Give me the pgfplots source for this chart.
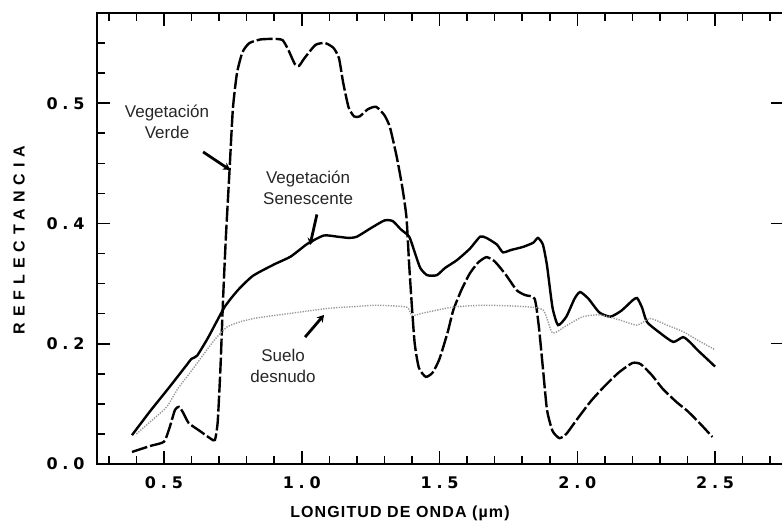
\documentclass[border=0pt]{standalone}
\usepackage{fontspec}
\setmainfont{Liberation Sans}
\newfontfamily\tickfont[LetterSpace=30]{DejaVu Sans}
\newfontfamily\ylabfont[LetterSpace=37]{Liberation Sans}
\newfontfamily\xlabfont[LetterSpace=7]{Liberation Sans}
\usepackage{pgfplots}
\pgfplotsset{compat=1.18}
\usetikzlibrary{arrows.meta}
\begin{document}
\begin{tikzpicture}
\begin{axis}[
  name=ax,
  scale only axis,
  width=687bp, height=451bp,
  xmin=0.257, xmax=2.75,
  ymin=0, ymax=0.75,
  axis line style={line width=2bp},
  tick align=inside,
  ytick pos=left,
  xtick={0.5,1.0,1.5,2.0,2.5},
  xticklabels={0.5,1.0,1.5,2.0,2.5},
  minor xtick={0.3,0.4,0.6,0.7,0.8,0.9,1.1,1.2,1.3,1.4,1.6,1.7,1.8,1.9,2.1,2.2,2.3,2.4,2.6,2.7},
  ytick={0,0.2,0.4,0.6},
  yticklabels={0.0,0.2,0.4,0.5},
  minor ytick={0.05,0.1,0.15,0.25,0.3,0.35,0.45,0.5,0.55,0.65,0.7},
  major tick length=13bp,
  minor tick length=8bp,
  every tick/.style={black, line width=1.6bp},
  xticklabel style={font=\tickfont\bfseries\fontsize{16bp}{18bp}\selectfont, yshift=-9bp},
  yticklabel style={font=\tickfont\bfseries\fontsize{16bp}{18bp}\selectfont, xshift=-9bp},
  xlabel={\xlabfont\bfseries\fontsize{16bp}{18bp}\selectfont LONGITUD DE ONDA (µm)},
  xlabel style={at={(axis description cs:0.441,0)}, anchor=center, yshift=-49bp},
  clip=false,
]
% Vegetacion verde (dashed)
\addplot[black, line width=2.4bp, dash pattern=on 16bp off 3bp, smooth, tension=0.35] coordinates {
(0.384,0.020) (0.45,0.030) (0.50,0.037) (0.52,0.06) (0.54,0.09) (0.555,0.095)
(0.57,0.085) (0.59,0.068) (0.63,0.055) (0.67,0.042) (0.685,0.040) (0.695,0.07)
(0.705,0.16) (0.715,0.28) (0.725,0.38) (0.737,0.48) (0.75,0.59) (0.765,0.65)
(0.785,0.685) (0.81,0.70) (0.85,0.706) (0.90,0.707) (0.93,0.705) (0.95,0.69)
(0.975,0.665) (0.99,0.662) (1.01,0.675) (1.05,0.697) (1.085,0.700) (1.115,0.692)
(1.135,0.675) (1.15,0.635) (1.17,0.593) (1.19,0.578) (1.21,0.578) (1.24,0.590)
(1.27,0.594) (1.30,0.58) (1.32,0.56) (1.345,0.51) (1.365,0.46) (1.38,0.41)
(1.39,0.33) (1.40,0.26) (1.41,0.20) (1.425,0.16) (1.45,0.145) (1.475,0.152)
(1.50,0.175) (1.53,0.22) (1.55,0.256) (1.58,0.29) (1.61,0.317) (1.64,0.335)
(1.67,0.344) (1.70,0.337) (1.74,0.315) (1.78,0.289) (1.81,0.281) (1.845,0.275)
(1.86,0.23) (1.875,0.16) (1.89,0.09) (1.91,0.055) (1.935,0.043) (1.96,0.05)
(2.0,0.075) (2.05,0.105) (2.10,0.13) (2.15,0.152) (2.20,0.168) (2.23,0.166)
(2.27,0.148) (2.31,0.125) (2.36,0.103) (2.40,0.088) (2.45,0.065) (2.49,0.045)
};
% Vegetacion senescente (solid)
\addplot[black, line width=2.4bp, smooth, tension=0.35] coordinates {
(0.384,0.048) (0.45,0.088) (0.52,0.128) (0.583,0.165) (0.60,0.175) (0.62,0.180)
(0.66,0.21) (0.72,0.261) (0.77,0.29) (0.823,0.313) (0.90,0.332) (0.96,0.345)
(1.02,0.366) (1.08,0.38) (1.13,0.378) (1.17,0.376) (1.20,0.378) (1.25,0.392)
(1.30,0.405) (1.33,0.404) (1.36,0.39) (1.39,0.378) (1.41,0.352) (1.43,0.326)
(1.455,0.314) (1.49,0.314) (1.52,0.326) (1.563,0.339) (1.61,0.358) (1.647,0.378)
(1.67,0.376) (1.708,0.365) (1.73,0.352) (1.76,0.356) (1.803,0.361) (1.84,0.368)
(1.857,0.376) (1.875,0.365) (1.89,0.33) (1.91,0.26) (1.93,0.231) (1.96,0.245)
(1.99,0.275) (2.01,0.286) (2.04,0.275) (2.08,0.252) (2.12,0.245) (2.16,0.255)
(2.20,0.272) (2.217,0.276) (2.235,0.26) (2.253,0.236) (2.30,0.218) (2.348,0.203)
(2.384,0.211) (2.41,0.202) (2.435,0.19) (2.47,0.175) (2.50,0.162)
};
% Suelo desnudo (dotted)
\addplot[black!40, line width=1.4bp, dash pattern=on 1.3bp off 1.3bp, smooth, tension=0.35] coordinates {
(0.40,0.05) (0.45,0.07) (0.51,0.095) (0.55,0.125) (0.60,0.155) (0.656,0.19)
(0.69,0.21) (0.729,0.228) (0.78,0.237) (0.838,0.243) (0.95,0.25) (1.10,0.259)
(1.20,0.262) (1.27,0.264) (1.38,0.261) (1.40,0.247) (1.45,0.252) (1.55,0.261)
(1.66,0.264) (1.80,0.262) (1.876,0.256) (1.91,0.218) (1.96,0.23) (2.02,0.245)
(2.08,0.248) (2.15,0.24) (2.217,0.231) (2.264,0.242) (2.32,0.232) (2.384,0.22)
(2.44,0.205) (2.50,0.19)
};
% annotations
\node[align=center, font=\fontsize{17bp}{21bp}\selectfont, text=black!85] at (axis cs:0.511,0.569) {Vegetación\\Verde};
\draw[line width=2.8bp, -{Stealth[length=7bp,width=8bp]}] (axis cs:0.642,0.519) -- (axis cs:0.74,0.489);
\node[align=center, font=\fontsize{17bp}{21bp}\selectfont, text=black!85] at (axis cs:1.023,0.46) {Vegetación\\Senescente};
\draw[line width=2.8bp, -{Stealth[length=7bp,width=8bp]}] (axis cs:1.055,0.415) -- (axis cs:1.03,0.364);
\node[align=center, font=\fontsize{17bp}{21bp}\selectfont, text=black!85] at (axis cs:0.932,0.163) {Suelo\\desnudo};
\draw[line width=2.8bp, -{Stealth[length=7bp,width=8bp]}] (axis cs:1.012,0.211) -- (axis cs:1.081,0.248);
\end{axis}
% right-hand major ticks only
\draw[line width=1.6bp] ([yshift=120.3bp]ax.south east) -- ++(-13bp,0);
\draw[line width=1.6bp] ([yshift=240.6bp]ax.south east) -- ++(-13bp,0);
\draw[line width=1.6bp] ([yshift=360.9bp]ax.south east) -- ++(-13bp,0);
\node[rotate=90, anchor=center, font=\ylabfont\bfseries\fontsize{16bp}{18bp}\selectfont] at ([shift={(-78bp,224bp)}]ax.south west) {REFLECTANCIA};
\pgfresetboundingbox
\path[use as bounding box] ([shift={(-97bp,-59bp)}]ax.south west) rectangle ([shift={(685bp,464bp)}]ax.south west);
\end{tikzpicture}
\end{document}
